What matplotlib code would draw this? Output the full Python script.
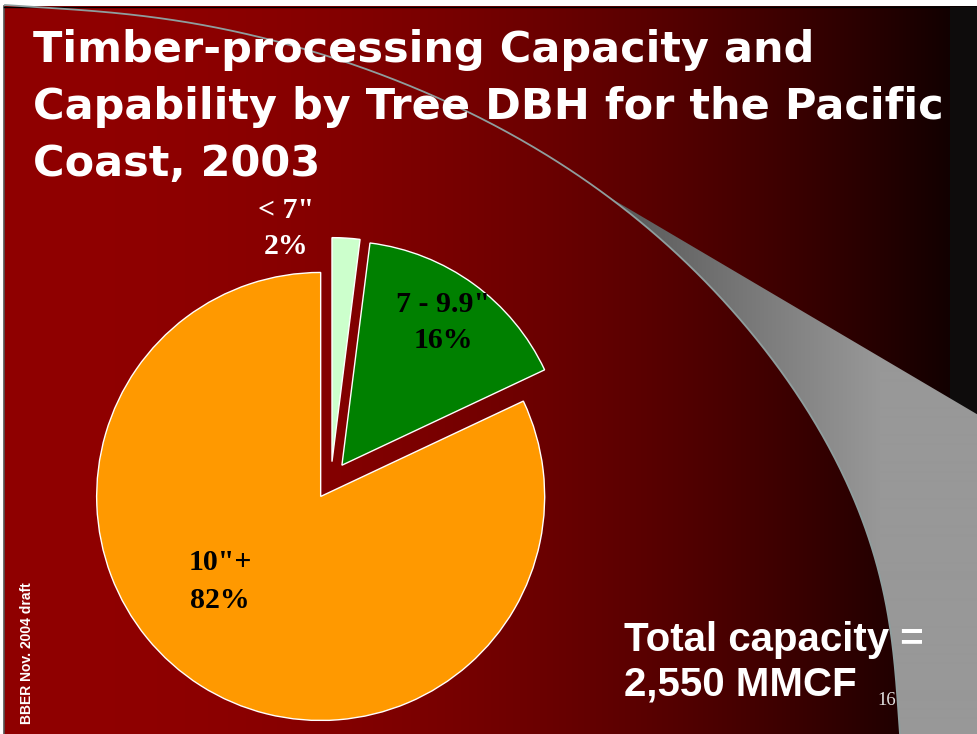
import numpy as np
from math import comb
import matplotlib
matplotlib.use('Agg')
import matplotlib.pyplot as plt
from matplotlib.patches import Rectangle, Polygon

# ---------------- data ----------------
categories = ['10"+', '7 - 9.9"', '< 7"']
shares = [82, 16, 2]
pct_labels = ['82%', '16%', '2%']
slice_colors = ['#FF9900', '#008000', '#CCFFCC']
label_colors = ['black', 'black', 'white']
title_lines = ['Timber-processing Capacity and',
               'Capability by Tree DBH for the Pacific',
               'Coast, 2003']
total_lines = ['Total capacity =', '2,550 MMCF']
page_number = '16'
side_note = 'BBER Nov. 2004 draft'

# ---------------- layout ----------------
W, H = 977, 734
fig = plt.figure(figsize=(W / 100, H / 100), dpi=100, facecolor='white')
ax = fig.add_axes([0, 0, 1, 1])


def fy(y):
    return H - y


# background gradient (dark red -> near black)
xs = np.arange(4, W) + 0.5
R = 142.9 + 0.0191 * xs - 1.585e-4 * xs ** 2
R = np.clip(R, 8, 255)
bg = np.zeros((1, len(xs), 3))
bg[0, :, 0] = R / 255
ax.imshow(bg, extent=[4, W, 0, fy(6)], aspect='auto', interpolation='nearest', zorder=0)

# frame lines
ax.plot([3.5, 3.5], [0, fy(6)], color='#555555', lw=1.2, zorder=0.2)
ax.plot([3.5, W], [fy(6.5), fy(6.5)], color='black', lw=1.0, zorder=0.2)

# dark strip at right
ax.add_patch(Rectangle((950, 0), W - 950, fy(7), facecolor='#0e0c0c', edgecolor='none', zorder=0.5))


def bezier_fit(pts, deg=7, iters=40, n_out=500):
    """Smooth least-squares Bezier through decorative guide points (fixed ends)."""
    Q = np.array(pts, float)
    d = np.r_[0, np.cumsum(np.hypot(*np.diff(Q, axis=0).T))]
    t = d / d[-1]

    def basis(tt):
        return np.stack([comb(deg, k) * (1 - tt) ** (deg - k) * tt ** k for k in range(deg + 1)], axis=1)

    for _ in range(iters):
        B = basis(t)
        rhs = Q - np.outer(B[:, 0], Q[0]) - np.outer(B[:, -1], Q[-1])
        inner, *_ = np.linalg.lstsq(B[:, 1:-1], rhs, rcond=None)
        ctrl = np.vstack([Q[0], inner, Q[-1]])
        dense_t = np.linspace(0, 1, 5000)
        dense = basis(dense_t) @ ctrl
        idx = np.argmin(((dense[None, :, :] - Q[:, None, :]) ** 2).sum(-1), axis=1)
        t = dense_t[idx]
        t[0], t[-1] = 0.0, 1.0
    return basis(np.linspace(0, 1, n_out)) @ ctrl


# decorative swoosh
guide = [(5, 5), (100, 12), (200, 25), (250, 33), (317, 53), (417, 92), (467, 110),
         (517, 137), (583, 177), (607, 197), (673, 250), (740, 318), (760, 347),
         (793, 390), (827, 440), (847, 480), (865, 530), (880, 580), (890, 630),
         (897, 680), (900, 734)]
curve = bezier_fit(guide)


def edge_line(x):
    return 190 + 0.59 * (x - 597)


below = (curve[:, 1] >= edge_line(curve[:, 0])) & (curve[:, 0] > 550)
first = int(np.argmax(below))
poly_pts = [(x, fy(y)) for x, y in curve[first:]]
poly_pts += [(W, fy(734)), (W, fy(edge_line(W)))]
swoosh = Polygon(poly_pts, closed=True, facecolor='none', edgecolor='none', zorder=1)
ax.add_patch(swoosh)
gx = np.arange(570, W) + 0.5
g = 82 + 70 * np.clip((gx - 590) / 290, 0, 1)
gimg = np.repeat((g / 255)[None, :, None], 3, axis=2)
im = ax.imshow(gimg, extent=[570, W, 0, fy(150)], aspect='auto', interpolation='bilinear', zorder=1)
im.set_clip_path(swoosh)
ax.plot(curve[:, 0], fy(curve[:, 1]), color='#8f9e9e', lw=1.3, zorder=1.2)

# ---------------- pie ----------------
wedges, _ = ax.pie(shares, colors=slice_colors, startangle=90, counterclock=True,
                   radius=224, center=(330.8, fy(480.5)), explode=[18.9] * len(shares),
                   wedgeprops=dict(edgecolor='white', linewidth=1.0), frame=False)
for w in wedges:
    w.set_zorder(2)

label_pos = [(220, 562, 600), (443, 305, 341), (286, 210, 246)]
for cat, pct, col, (lx, ly1, ly2) in zip(categories, pct_labels, label_colors, label_pos):
    ax.text(lx, fy(ly1), cat, ha='center', va='center', color=col,
            fontsize=21.5, fontweight='bold', family='Liberation Serif', zorder=3)
    ax.text(lx, fy(ly2), pct, ha='center', va='center', color=col,
            fontsize=21.5, fontweight='bold', family='Liberation Serif', zorder=3)

# ---------------- texts ----------------
for line, base in zip(title_lines, [62, 119, 176]):
    ax.text(33, fy(base), line, ha='left', va='baseline', color='white',
            fontsize=31, fontweight='bold', family='DejaVu Sans', zorder=3)

for line, base in zip(total_lines, [651, 696]):
    ax.text(624, fy(base), line, ha='left', va='baseline', color='white',
            fontsize=29, fontweight='bold', family='Liberation Sans', zorder=3)

ax.text(887, fy(705), page_number, ha='center', va='baseline', color='#e0e0e0',
        fontsize=13.5, family='Liberation Serif', zorder=3)
ax.text(27, fy(653), side_note, rotation=90, ha='center', va='center', color='white',
        fontsize=10, fontweight='bold', family='Liberation Sans', zorder=3)

ax.set_xlim(0, W)
ax.set_ylim(0, H)
ax.set_aspect('auto')
ax.axis('off')

fig.savefig('out.png', dpi=100, facecolor='white')
